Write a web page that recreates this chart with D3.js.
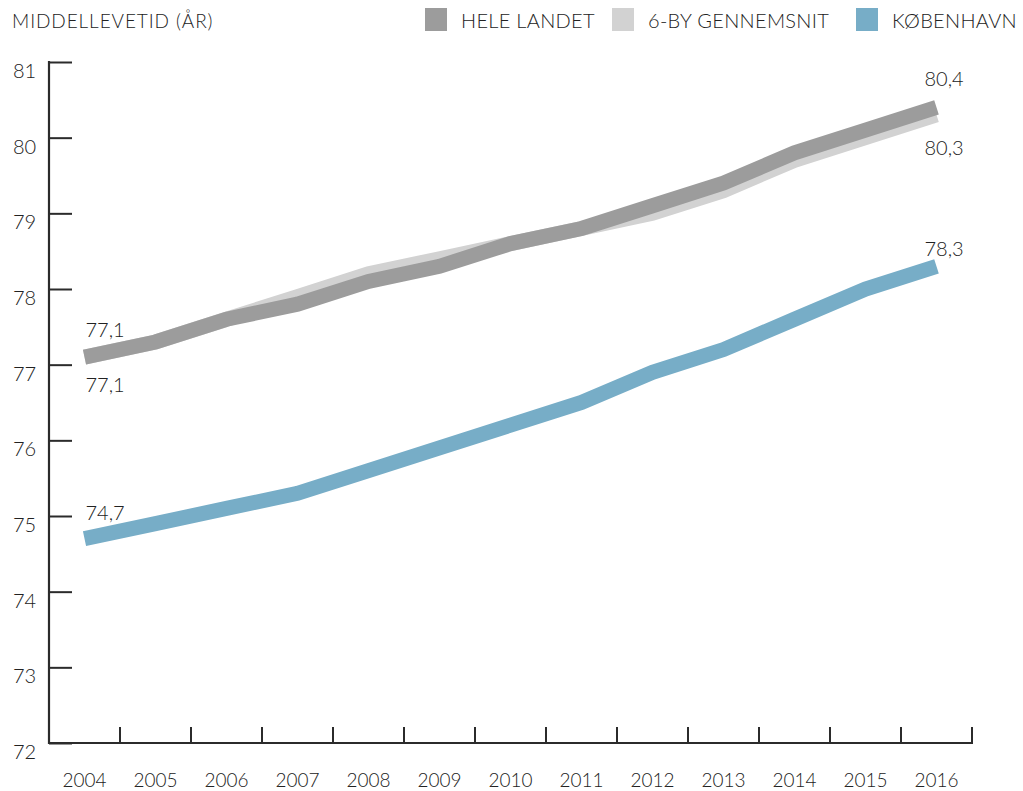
<!DOCTYPE html>
<html>
<head>
<meta charset="utf-8">
<script src="https://cdn.jsdelivr.net/npm/d3@7"></script>
<style>
  html, body { margin: 0; padding: 0; background: #fff; }
  svg { display: block; font-family: Lato, "Open Sans", sans-serif; font-weight: 300; }
</style>
</head>
<body>
<svg id="chart" width="1023" height="791"></svg>
<script>
const years = [2004, 2005, 2006, 2007, 2008, 2009, 2010, 2011, 2012, 2013, 2014, 2015, 2016];
const heleLandet = [77.1, 77.3, 77.6, 77.8, 78.1, 78.3, 78.6, 78.8, 79.1, 79.4, 79.8, 80.1, 80.4];
const seksBy     = [77.1, 77.3, 77.6, 77.9, 78.2, 78.4, 78.6, 78.8, 79.0, 79.3, 79.7, 80.0, 80.3];
const koebenhavn = [74.7, 74.9, 75.1, 75.3, 75.6, 75.9, 76.2, 76.5, 76.9, 77.2, 77.6, 78.0, 78.3];
const yTicks = [72, 73, 74, 75, 76, 77, 78, 79, 80, 81];
const seriesNames = ["HELE LANDET", "6-BY GENNEMSNIT", "KØBENHAVN"];
const seriesColors = ["#9c9c9c", "#d2d2d2", "#77adc7"];
const titleText = "MIDDELLEVETID (ÅR)";

const svg = d3.select("#chart");
const fmt = v => String(v.toFixed(1)).replace(".", ",");
const textColor = "#222";

const x = d3.scaleBand().domain(years).range([49, 972]).paddingInner(0).paddingOuter(0);
const y = d3.scaleLinear().domain([72, 81]).range([743, 62]);
const cx = yr => x(yr) + x.bandwidth() / 2;

// Title
svg.append("text").attr("x", 12).attr("y", 28)
  .attr("font-size", 19).attr("letter-spacing", 0.9).attr("fill", textColor)
  .text(titleText);

// Legend
const legendPos = [425, 612, 856];
seriesNames.forEach((name, i) => {
  svg.append("rect").attr("x", legendPos[i]).attr("y", 8).attr("width", 22).attr("height", 23)
    .attr("fill", seriesColors[i]);
  svg.append("text").attr("x", legendPos[i] + 36).attr("y", 28)
    .attr("font-size", 20).attr("letter-spacing", 0.3).attr("fill", textColor).text(name);
});

// Y axis (ticks pointing right)
const yAxis = d3.axisRight(y).tickValues(yTicks).tickSize(23).tickFormat("");
const gy = svg.append("g").attr("transform", "translate(49,0)").call(yAxis);
gy.select(".domain").remove();
gy.selectAll(".tick line").attr("stroke", "#2b2b2b").attr("stroke-width", 2);
svg.append("line").attr("x1", 49).attr("x2", 49).attr("y1", y(81) - 1).attr("y2", y(72) + 1)
  .attr("stroke", "#2b2b2b").attr("stroke-width", 2.2);
svg.selectAll(".ylab").data(yTicks).enter().append("text")
  .attr("class", "ylab").attr("x", 13).attr("y", d => y(d) + 16)
  .attr("font-size", 20).attr("fill", textColor).text(d => d);

// X axis (ticks at band boundaries, pointing up)
svg.append("line").attr("x1", 48).attr("x2", x.range()[1] + 1).attr("y1", y(72)).attr("y2", y(72))
  .attr("stroke", "#2b2b2b").attr("stroke-width", 2);
svg.selectAll(".xtick").data(years).enter().append("line")
  .attr("x1", d => x(d) + x.bandwidth()).attr("x2", d => x(d) + x.bandwidth())
  .attr("y1", y(72)).attr("y2", y(72) - 16)
  .attr("stroke", "#2b2b2b").attr("stroke-width", 2);
svg.selectAll(".xlab").data(years).enter().append("text")
  .attr("x", d => cx(d)).attr("y", 787).attr("text-anchor", "middle")
  .attr("font-size", 19).attr("fill", textColor).text(d => d);

// Lines
const line = d3.line().x((d, i) => cx(years[i])).y(d => y(d));
[[seksBy, 1], [heleLandet, 0], [koebenhavn, 2]].forEach(([vals, ci]) => {
  svg.append("path").datum(vals).attr("d", line)
    .attr("fill", "none").attr("stroke", seriesColors[ci]).attr("stroke-width", 15)
    .attr("stroke-linejoin", "miter").attr("stroke-linecap", "butt");
});

// Value labels
const last = years.length - 1;
const labels = [
  { v: heleLandet[0], x: cx(years[0]) + 1, dy: -20 },
  { v: seksBy[0], x: cx(years[0]) + 1, dy: 35 },
  { v: koebenhavn[0], x: cx(years[0]) + 1, dy: -19 },
  { v: heleLandet[last], x: cx(years[last]) - 12, dy: -21 },
  { v: seksBy[last], x: cx(years[last]) - 12, dy: 40 },
  { v: koebenhavn[last], x: cx(years[last]) - 12, dy: -10 }
];
labels.forEach(l => {
  svg.append("text").attr("x", l.x).attr("y", y(l.v) + l.dy)
    .attr("font-size", 20).attr("fill", textColor).text(fmt(l.v));
});
</script>
</body>
</html>
